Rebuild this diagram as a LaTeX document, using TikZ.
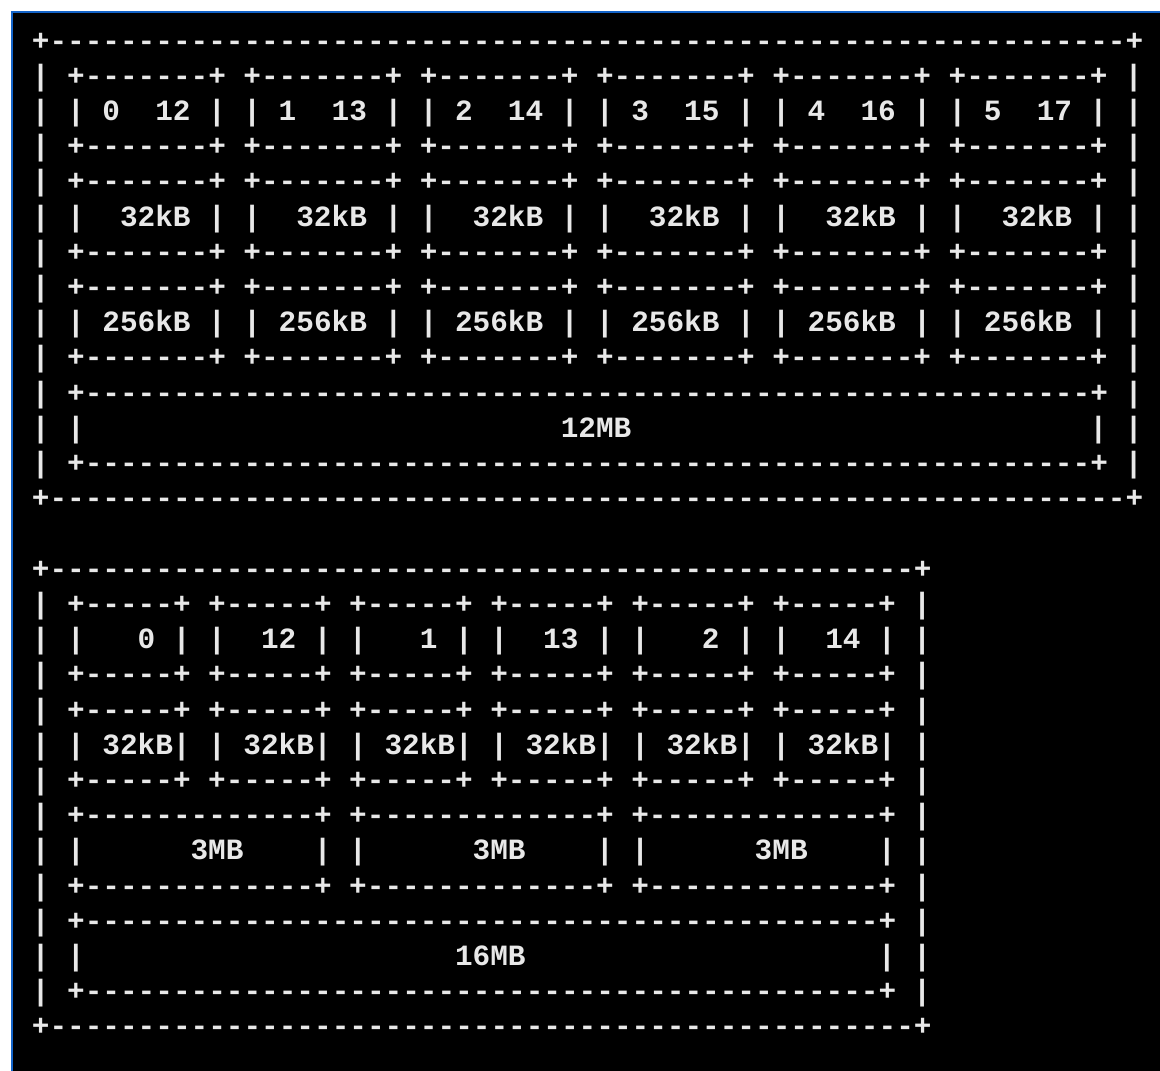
\documentclass[tikz,border=0pt]{standalone}
\usepackage{fontspec}
\newfontfamily\termfont{Liberation Mono}[Ligatures=TeXOff]
\definecolor{termgray}{RGB}{232,232,232}
\definecolor{frameblue}{RGB}{20,100,200}
\ExplSyntaxOn
\cs_new:Npn \dashrun #1 { \prg_replicate:nn {#1} {-} }
\ExplSyntaxOff
\tikzset{
  asc/.style={font=\termfont\bfseries\fontsize{29.4}{35.2}\selectfont,
    text=termgray, inner sep=0pt, anchor=base west},
}
\begin{document}
\begin{tikzpicture}[x=17.63pt, y=-35.21pt]
  % screen
  \fill[white] (0pt,0pt) rectangle (1160pt,-1071pt);
  \fill[frameblue] (11pt,-11pt) rectangle (1160pt,-1071pt);
  \fill[black] (13pt,-13pt) rectangle (1160pt,-1071pt);
  \useasboundingbox (0pt,0pt) rectangle (1160pt,-1071pt);
  \begin{scope}[shift={(31.7pt,-50.1pt)}]
    % 6 cores, private L1/L2, shared 12MB
    \node[asc] (top0) at (0,0) {+\dashrun{61}+};
    \node[asc] (top13) at (0,13) {+\dashrun{61}+};
    \foreach \r in {1,...,12}{
      \node[asc] (tl\r) at (0,\r) {|};
      \node[asc] (tr\r) at (62,\r) {|};
    }
    \foreach \k in {0,...,5}{
      \pgfmathtruncatemacro\c{2+10*\k}
      \pgfmathtruncatemacro\t{12+\k}
      \foreach \r in {1,3,4,6,7,9}{\node[asc] (tb\k-\r) at (\c,\r) {+\dashrun{7}+};}
      \foreach \r in {2,5,8}{
        \node[asc] (tbl\k-\r) at (\c,\r) {|};
        \node[asc] (tbr\k-\r) at (\c+8,\r) {|};
      }
      \node[asc] (cpu\k) at (\c+2,2) {\k};
      \node[asc] (ht\k) at (\c+5,2) {\t};
      \node[asc] (lone\k) at (\c+3,5) {32kB};
      \node[asc] (ltwo\k) at (\c+2,8) {256kB};
    }
    \foreach \r in {10,12}{\node[asc] (lthree\r) at (2,\r) {+\dashrun{57}+};}
    \node[asc] (lthreel) at (2,11) {|};
    \node[asc] (lthree) at (30,11) {12MB};
    \node[asc] (lthreer) at (60,11) {|};
    % 3 clusters of 2 cores, 3MB each, shared 16MB
    \node[asc] (bot15) at (0,15) {+\dashrun{49}+};
    \node[asc] (bot28) at (0,28) {+\dashrun{49}+};
    \foreach \r in {16,...,27}{
      \node[asc] (bl\r) at (0,\r) {|};
      \node[asc] (br\r) at (50,\r) {|};
    }
    \foreach \k/\v/\o in {0/0/4,1/12/3,2/1/4,3/13/3,4/2/4,5/14/3}{
      \pgfmathtruncatemacro\c{2+8*\k}
      \foreach \r in {16,18,19,21}{\node[asc] (bb\k-\r) at (\c,\r) {+\dashrun{5}+};}
      \foreach \r in {17,20}{
        \node[asc] (bbl\k-\r) at (\c,\r) {|};
        \node[asc] (bbr\k-\r) at (\c+6,\r) {|};
      }
      \node[asc] (core\k) at (\c+\o,17) {\v};
      \node[asc] (cache\k) at (\c+2,20) {32kB};
    }
    \foreach \j in {0,1,2}{
      \pgfmathtruncatemacro\c{2+16*\j}
      \foreach \r in {22,24}{\node[asc] (mb\j-\r) at (\c,\r) {+\dashrun{13}+};}
      \node[asc] (mbl\j) at (\c,23) {|};
      \node[asc] (mid\j) at (\c+7,23) {3MB};
      \node[asc] (mbr\j) at (\c+14,23) {|};
    }
    \foreach \r in {25,27}{\node[asc] (big\r) at (2,\r) {+\dashrun{45}+};}
    \node[asc] (bigl) at (2,26) {|};
    \node[asc] (big) at (24,26) {16MB};
    \node[asc] (bigr) at (48,26) {|};
  \end{scope}
\end{tikzpicture}
\end{document}
